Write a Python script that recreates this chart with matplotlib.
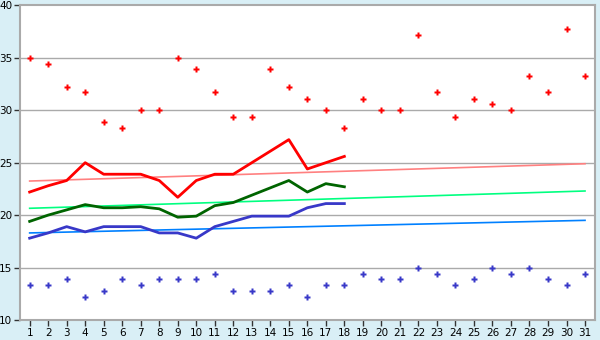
import numpy as np
import matplotlib
matplotlib.use("Agg")
import matplotlib.pyplot as plt

days = np.arange(1, 32)

# daily highs / lows (markers)
high = [35.0, 34.4, 32.2, 31.7, 28.9, 28.3, 30.0, 30.0, 35.0, 33.9,
        31.7, 29.4, 29.4, 33.9, 32.2, 31.1, 30.0, 28.3, 31.1, 30.0,
        30.0, 37.2, 31.7, 29.4, 31.1, 30.6, 30.0, 33.3, 31.7, 37.8, 33.3]
low = [13.3, 13.3, 13.9, 12.2, 12.8, 13.9, 13.3, 13.9, 13.9, 13.9,
       14.4, 12.8, 12.8, 12.8, 13.3, 12.2, 13.3, 13.3, 14.4, 13.9,
       13.9, 15.0, 14.4, 13.3, 13.9, 15.0, 14.4, 15.0, 13.9, 13.3, 14.4]

# lines, first 18 days
line_days = np.arange(1, 19)
red_line = [22.2, 22.8, 23.3, 25.0, 23.9, 23.9, 23.9, 23.3, 21.7, 23.3,
            23.9, 23.9, 25.0, 26.1, 27.2, 24.4, 25.0, 25.6]
green_line = [19.4, 20.0, 20.5, 21.0, 20.7, 20.7, 20.8, 20.6, 19.8, 19.9,
              20.9, 21.2, 21.9, 22.6, 23.3, 22.2, 23.0, 22.7]
blue_line = [17.8, 18.3, 18.9, 18.4, 18.9, 18.9, 18.9, 18.3, 18.3, 17.8,
             18.9, 19.4, 19.9, 19.9, 19.9, 20.7, 21.1, 21.1]

# trend lines (start day 1, end day 31)
trend_days = [1, 31]
red_trend = [23.25, 24.9]
green_trend = [20.65, 22.3]
blue_trend = [18.3, 19.5]

fig = plt.figure(figsize=(6, 3.4), dpi=100)
fig.patch.set_facecolor("#d9eff6")
ax = fig.add_axes([0.034, 0.059, 0.958, 0.925])
ax.set_facecolor("white")

for y in [15, 20, 25, 30, 35]:
    ax.axhline(y, color="#aaaaaa", lw=1, zorder=1)

ax.plot(trend_days, red_trend, color="#ff8080", lw=1.2, zorder=2)
ax.plot(trend_days, green_trend, color="#00ff80", lw=1.2, zorder=2)
ax.plot(trend_days, blue_trend, color="#0080ff", lw=1.2, zorder=2)

ax.plot(line_days, red_line, color="#ff0000", lw=2, zorder=3)
ax.plot(line_days, green_line, color="#006400", lw=2, zorder=3)
ax.plot(line_days, blue_line, color="#3838c8", lw=2, zorder=3)

ax.plot(days, high, ls="none", marker="P", ms=5, color="#ff0000",
        mec="none", zorder=4)
ax.plot(days, low, ls="none", marker="P", ms=5, color="#3838c8",
        mec="none", zorder=4)

ax.set_xlim(0.5, 31.55)
ax.set_ylim(10, 40)
ax.set_xticks(days)
ax.set_yticks([10, 15, 20, 25, 30, 35, 40])

for s in ax.spines.values():
    s.set_color("#aaaaaa")
    s.set_linewidth(1.5)

ax.tick_params(axis="both", direction="out", length=4, width=1,
               color="#333333", labelsize=7.5, pad=2)

fig.savefig("out.png", dpi=100, facecolor=fig.get_facecolor())
